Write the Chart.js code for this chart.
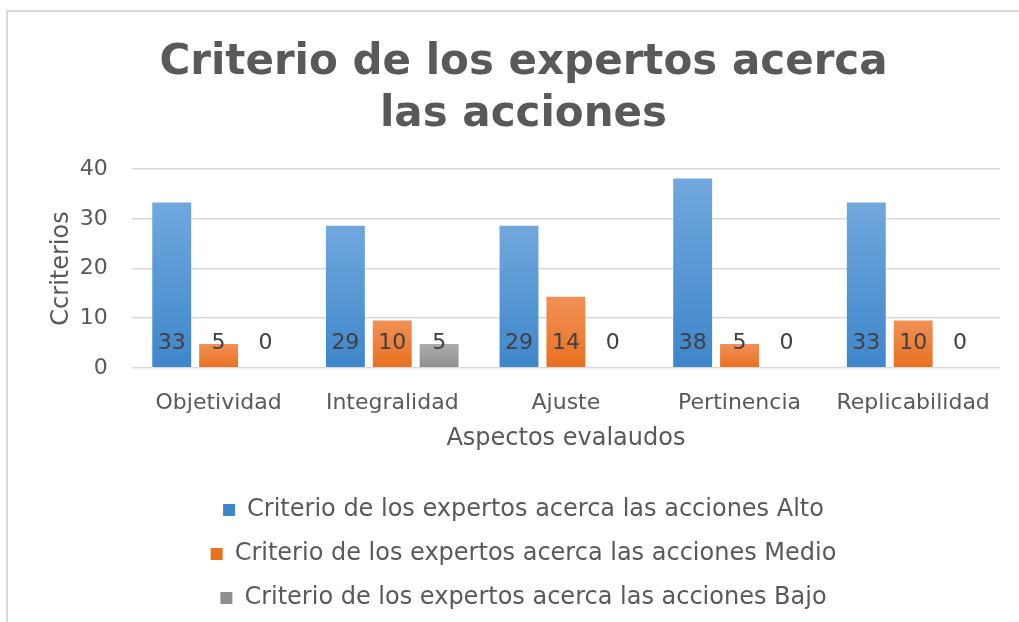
<!DOCTYPE html>
<html>
<head>
<meta charset="utf-8">
<script src="https://cdn.jsdelivr.net/npm/chart.js@4"></script>
<style>
  html, body { margin: 0; padding: 0; background: #fff; }
  #wrap { position: relative; width: 1019px; height: 622px; overflow: hidden; }
  #frame { position: absolute; left: 6px; top: 10px; width: 1100px; height: 700px;
           border-top: 2px solid #d9d9d9; border-left: 2px solid #d9d9d9; }
  canvas { position: absolute; left: 0; top: 0; }
</style>
</head>
<body>
<div id="wrap">
  <div id="frame"></div>
  <canvas id="chart" width="1019" height="622"></canvas>
</div>
<script>
const categories = ["Objetividad", "Integralidad", "Ajuste", "Pertinencia", "Replicabilidad"];
const alto = [33.3, 28.6, 28.6, 38.1, 33.3];
const medio = [4.8, 9.5, 14.3, 4.8, 9.5];
const bajo = [0, 4.8, 0, 0, 0];
const yTicks = [0, 10, 20, 30, 40];
const seriesNames = [
  "Criterio de los expertos acerca las acciones Alto",
  "Criterio de los expertos acerca las acciones Medio",
  "Criterio de los expertos acerca las acciones Bajo"
];
const FONT = "'DejaVu Sans', Verdana, sans-serif";
let chart;

// gradient per bar, lighter on top like the office style
function barFill(top, bottom) {
  return (ctx) => {
    const c = ctx.chart;
    if (!c.chartArea || ctx.type !== "data") return bottom;
    const y = c.scales.y;
    const v = ctx.raw || 0;
    const y0 = y.getPixelForValue(0);
    const y1 = y.getPixelForValue(v);
    if (y0 - y1 < 1) return bottom;
    const g = c.ctx.createLinearGradient(0, y1, 0, y0);
    g.addColorStop(0, top);
    g.addColorStop(1, bottom);
    return g;
  };
}

// value labels near the base of each bar
const baseLabels = {
  id: "baseLabels",
  afterDatasetsDraw(c) {
    const ctx = c.ctx;
    const y0 = c.scales.y.getPixelForValue(0);
    ctx.save();
    ctx.font = "22px " + FONT;
    ctx.fillStyle = "#404040";
    ctx.textAlign = "center";
    ctx.textBaseline = "middle";
    c.data.datasets.forEach((ds, i) => {
      c.getDatasetMeta(i).data.forEach((bar, j) => {
        ctx.fillText(String(Math.round(ds.data[j])), bar.x, y0 - 25);
      });
    });
    ctx.restore();
  }
};

window.onload = () => {
  const ctx = document.getElementById("chart").getContext("2d");
  chart = new Chart(ctx, {
    type: "bar",
    data: {
      labels: categories,
      datasets: [
        { label: seriesNames[0], data: alto, backgroundColor: barFill("#71a8de", "#3e86ca") },
        { label: seriesNames[1], data: medio, backgroundColor: barFill("#f19158", "#e8701f") },
        { label: seriesNames[2], data: bajo, backgroundColor: barFill("#acacac", "#8e8e8e") }
      ]
    },
    plugins: [baseLabels],
    options: {
      responsive: false,
      animation: false,
      categoryPercentage: 0.81,
      barPercentage: 0.83,
      layout: { padding: { left: 47, right: 19, top: 0, bottom: 2 } },
      scales: {
        x: {
          grid: { display: false },
          border: { display: false },
          ticks: { color: "#595959", font: { family: FONT, size: 22 }, padding: 14, maxRotation: 0 },
          title: { display: true, text: "Aspectos evalaudos", color: "#595959",
                   font: { family: FONT, size: 24 }, padding: { top: -6, bottom: 25 } }
        },
        y: {
          min: 0,
          max: 40,
          afterBuildTicks: (axis) => { axis.ticks = yTicks.map(v => ({ value: v })); },
          grid: { color: "#d9d9d9", lineWidth: 1.5, drawTicks: false },
          border: { display: false },
          ticks: { color: "#595959", font: { family: FONT, size: 22 }, padding: 24 },
          title: { display: true, text: "Ccriterios", color: "#595959",
                   font: { family: FONT, size: 24 }, padding: { top: 0, bottom: -20 } }
        }
      },
      plugins: {
        title: {
          display: true,
          text: ["Criterio de los expertos acerca", "las acciones"],
          color: "#595959",
          font: { family: FONT, size: 42, weight: "bold", lineHeight: 1.24 },
          padding: { top: 37, bottom: 28 }
        },
        legend: {
          position: "bottom",
          labels: {
            color: "#595959",
            font: { family: FONT, size: 24 },
            boxWidth: 12,
            boxHeight: 12,
            padding: 20
          }
        },
        tooltip: { enabled: false }
      }
    }
  });
};
</script>
</body>
</html>
